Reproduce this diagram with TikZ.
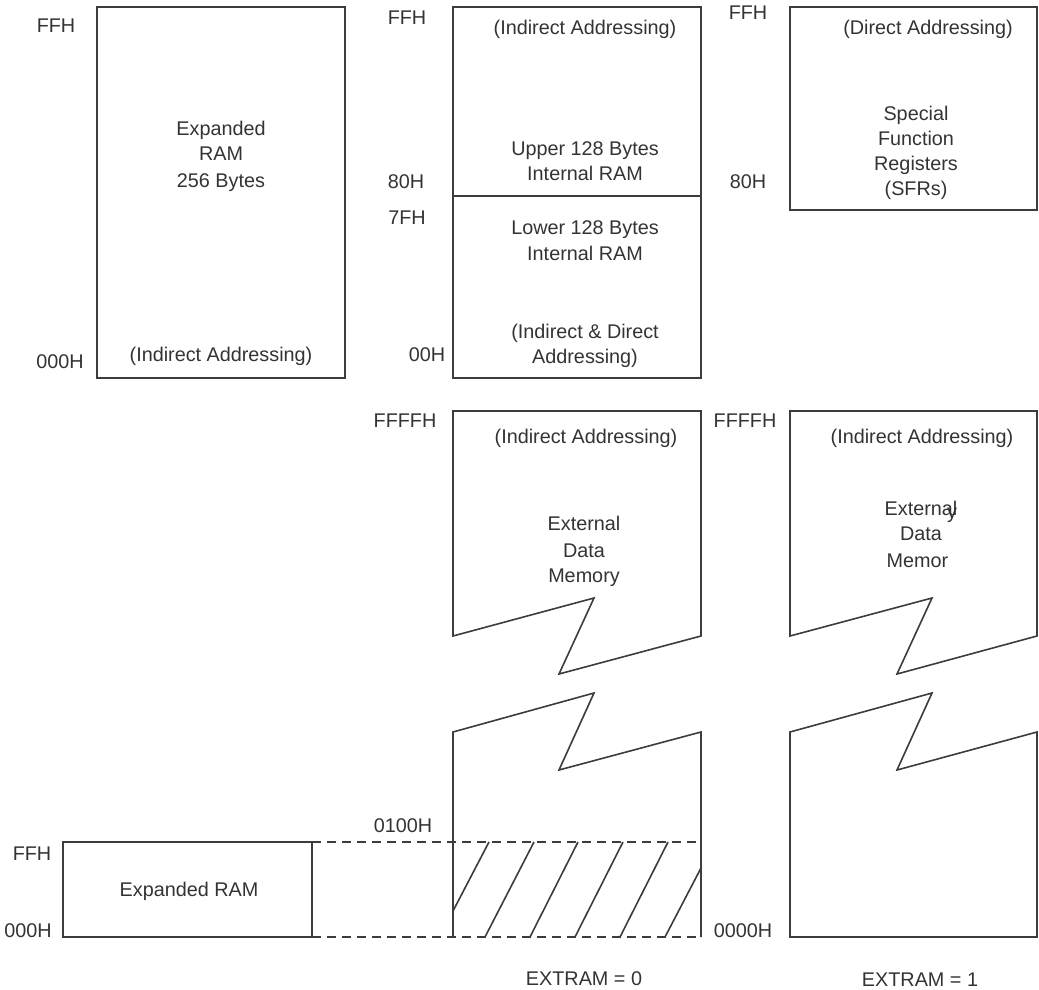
\documentclass[tikz,border=0pt]{standalone}
\usepackage{fontspec}
\setmainfont{Liberation Sans}
\definecolor{ln}{HTML}{3C3C3C}
\definecolor{tx}{HTML}{333333}
\tikzset{
  lbl/.style={anchor=base, inner sep=0pt, text=tx, font=\fontsize{19.8}{26}\selectfont},
  outline/.style={draw=ln, line width=1.6pt, line join=miter},
  dashln/.style={draw=ln, line width=1.6pt, dash pattern=on 9pt off 6pt},
  hatch/.style={draw=ln, line width=1.6pt}
}
\begin{document}
\begin{tikzpicture}[x=1pt,y=-1pt]
\useasboundingbox (0,0) rectangle (1039,990);

% ---------- top row ----------
\draw[outline] (97,7) rectangle (345,378);
\draw[outline] (453,7) rectangle (701,378);
\draw[outline] (453,196) -- (701,196);
\draw[outline] (790,7) rectangle (1037,210);

\node[lbl] (ffhA) at (56,33) {FFH};
\node[lbl] (zA) at (60,368) {000H};
\node[lbl] (eA1) at (221,135) {Expanded};
\node[lbl] (eA2) at (221,160) {RAM};
\node[lbl] (eA3) at (221,187) {256 Bytes};
\node[lbl] (iA) at (221,361) {(Indirect Addressing)};

\node[lbl] (ffhB) at (407,25) {FFH};
\node[lbl] (iB) at (585,35) {(Indirect Addressing)};
\node[lbl] (uB1) at (585,155) {Upper 128 Bytes};
\node[lbl] (uB2) at (585,180) {Internal RAM};
\node[lbl] (h80B) at (406,188) {80H};
\node[lbl] (h7fB) at (407,224) {7FH};
\node[lbl] (lB1) at (585,234) {Lower 128 Bytes};
\node[lbl] (lB2) at (585,260) {Internal RAM};
\node[lbl] (dB1) at (585,338) {(Indirect \& Direct};
\node[lbl] (dB2) at (585,363) {Addressing)};
\node[lbl] (h00B) at (427,361) {00H};

\node[lbl] (ffhC) at (748,20) {FFH};
\node[lbl] (dC) at (928,35) {(Direct Addressing)};
\node[lbl] (sC1) at (916,120) {Special};
\node[lbl] (sC2) at (916,145) {Function};
\node[lbl] (sC3) at (916,170) {Registers};
\node[lbl] (sC4) at (916,195) {(SFRs)};
\node[lbl] (h80C) at (748,188) {80H};

% ---------- external memory, EXTRAM = 0 ----------
\draw[outline] (453,636) -- (453,411) -- (701,411) -- (701,636) -- (559,674) -- (594,598) -- cycle;
\draw[outline] (453,937) -- (453,732) -- (594,693) -- (559,770) -- (701,732) -- (701,937);
\node[lbl] (ffffB) at (405,427) {FFFFH};
\node[lbl] (iB2) at (586,443) {(Indirect Addressing)};
\node[lbl] (xB1) at (584,530) {External};
\node[lbl] (xB2) at (584,557) {Data};
\node[lbl] (xB3) at (584,582) {Memory};

% ---------- external memory, EXTRAM = 1 ----------
\draw[outline] (790,636) -- (790,411) -- (1037,411) -- (1037,636) -- (897,674) -- (932,598) -- cycle;
\draw[outline] (790,732) -- (932,693) -- (897,770) -- (1037,732) -- (1037,937) -- (790,937) -- cycle;
\node[lbl] (ffffC) at (745,427) {FFFFH};
\node[lbl] (iC2) at (922,443) {(Indirect Addressing)};
\node[lbl] (xC1) at (921,515) {External};
\node[lbl] (xCy) at (952,518) {y};
\node[lbl] (xC2) at (921,540) {Data};
\node[lbl] (xC3) at (917.5,567) {Memor};
\node[lbl] (zC) at (743,937) {0000H};

% ---------- expanded RAM mapped ----------
\draw[outline] (63,842) rectangle (312,937);
\node[lbl] (ffhD) at (32,860) {FFH};
\node[lbl] (zD) at (28,937) {000H};
\node[lbl] (eD) at (189,896) {Expanded RAM};
\node[lbl] (h0100) at (403,832) {0100H};

\draw[dashln] (312,842) -- (701,842);
\draw[dashln] (312,937) -- (701,937);

% hatching
\draw[hatch] (453,911) -- (489,842);
\draw[hatch] (485,937) -- (534,842);
\draw[hatch] (530,937) -- (578,842);
\draw[hatch] (575,937) -- (623,842);
\draw[hatch] (620,937) -- (668,842);
\draw[hatch] (665,937) -- (701,868);

\node[lbl] (ex0) at (584,985) {EXTRAM = 0};
\node[lbl] (ex1) at (920,986) {EXTRAM = 1};
\end{tikzpicture}
\end{document}
